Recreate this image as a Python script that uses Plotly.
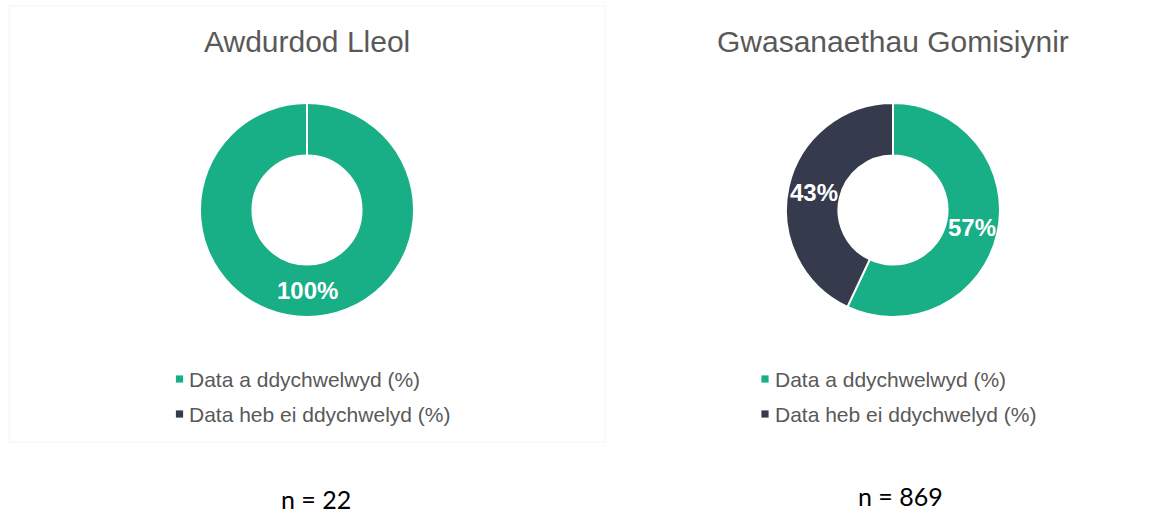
import math
import plotly.graph_objects as go

W, H = 1173, 519

# ---- data ----
panel_titles = ["Awdurdod Lleol", "Gwasanaethau Gomisiynir"]
slice_labels = ["Data a ddychwelwyd (%)", "Data heb ei ddychwelyd (%)"]
slice_colors = ["#18AE86", "#363A4D"]
awdurdod_lleol_values = [100, 0]
gwasanaethau_values = [57, 43]
n_labels = ["n = 22", "n = 869"]

all_values = [awdurdod_lleol_values, gwasanaethau_values]

# ---- layout geometry (page pixels) ----
centers = [(307, 210), (893, 210)]
R = 107
HOLE = 0.51
legend_marker_x = [179.5, 765]
legend_text_x = [187, 773]
legend_rows_y = [379, 414]
MK = 3.6  # half marker size
n_pos = [(316, 499), (900, 496)]
title_y = 42

def px_x(x):
    return x / W

def px_y(y):
    return 1 - y / H

fig = go.Figure()
annotations = []
shapes = []

for i, vals in enumerate(all_values):
    cx, cy = centers[i]
    fig.add_trace(go.Pie(
        labels=slice_labels,
        values=vals,
        hole=HOLE,
        sort=False,
        direction="clockwise",
        rotation=0,
        marker=dict(colors=slice_colors, line=dict(color="white", width=2)),
        textinfo="none",
        hoverinfo="label+percent",
        domain=dict(x=[px_x(cx - R), px_x(cx + R)], y=[px_y(cy + R), px_y(cy - R)]),
        showlegend=False,
    ))
    # percentage labels at slice mid-angles
    total = sum(vals)
    cum = 0
    rmid = R * (1 + HOLE) / 2
    for v in vals:
        if v > 0:
            ang = 2 * math.pi * (cum + v / 2) / total  # clockwise from top
            tx = cx + rmid * math.sin(ang)
            ty = cy - rmid * math.cos(ang)
            annotations.append(dict(
                x=px_x(tx), y=px_y(ty), xref="paper", yref="paper",
                text=f"<b>{round(100 * v / total)}%</b>", showarrow=False,
                font=dict(family="Liberation Sans, Arial", size=24, color="white"),
                xanchor="center", yanchor="middle"))
        cum += v
    # slice boundary at start (visible white seam)
    if max(vals) == total:
        shapes.append(dict(type="line", xref="paper", yref="paper",
                           x0=px_x(cx), x1=px_x(cx),
                           y0=px_y(cy - R * HOLE), y1=px_y(cy - R - 1),
                           line=dict(color="white", width=2)))
    # title
    annotations.append(dict(
        x=px_x(cx), y=px_y(title_y), xref="paper", yref="paper",
        text=panel_titles[i], showarrow=False,
        font=dict(family="Liberation Sans, Arial", size=30, color="#595959"),
        xanchor="center", yanchor="middle"))
    # legend
    for j, lab in enumerate(slice_labels):
        ly = legend_rows_y[j]
        mx = legend_marker_x[i]
        shapes.append(dict(type="rect", xref="paper", yref="paper",
                           x0=px_x(mx - MK), x1=px_x(mx + MK),
                           y0=px_y(ly + MK), y1=px_y(ly - MK),
                           fillcolor=slice_colors[j], line=dict(width=0)))
        annotations.append(dict(
            x=px_x(legend_text_x[i]), y=px_y(ly), xref="paper", yref="paper",
            text=lab, showarrow=False,
            font=dict(family="Liberation Sans, Arial", size=21, color="#595959"),
            xanchor="left", yanchor="middle"))
    # n label
    nx, ny = n_pos[i]
    annotations.append(dict(
        x=px_x(nx), y=px_y(ny), xref="paper", yref="paper",
        text=n_labels[i], showarrow=False,
        font=dict(family="Lato, Carlito, Calibri", size=25, color="#000000"),
        xanchor="center", yanchor="middle"))

# faint panel border
shapes.append(dict(type="rect", xref="paper", yref="paper",
                   x0=px_x(9), x1=px_x(605), y0=px_y(442), y1=px_y(6),
                   line=dict(color="#f4f4f4", width=1), layer="below"))

fig.update_layout(
    width=W, height=H,
    margin=dict(l=0, r=0, t=0, b=0),
    paper_bgcolor="white", plot_bgcolor="white",
    annotations=annotations, shapes=shapes,
    showlegend=False,
)

fig.write_html(
    "out.html",
    config={"displayModeBar": False},
    post_script="document.body.style.margin='0';document.body.style.overflow='hidden';",
)
